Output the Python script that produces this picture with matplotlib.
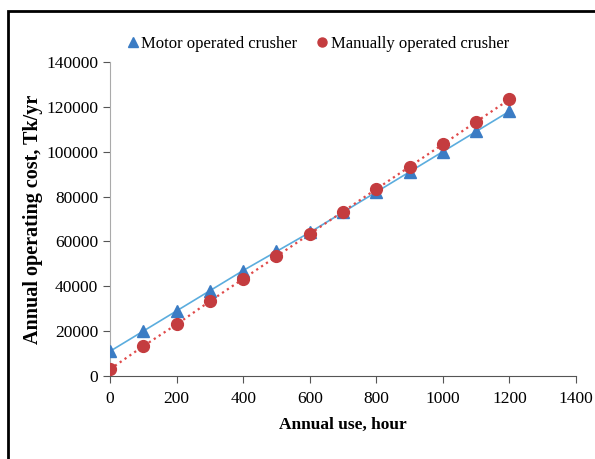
import matplotlib
matplotlib.use('Agg')
import matplotlib.pyplot as plt
from matplotlib.lines import Line2D
from matplotlib.patches import Rectangle

plt.rcParams['font.family'] = 'Liberation Serif'

# data
hours = [0, 100, 200, 300, 400, 500, 600, 700, 800, 900, 1000, 1100, 1200]
motor_cost = [11000, 20000, 29000, 38000, 47000, 55500, 64000, 73000,
              82000, 91000, 100000, 109000, 118000]
manual_cost = [3000, 13300, 23000, 33300, 43300, 53300, 63300, 73300,
               83300, 93300, 103300, 113300, 123300]
xticks = [0, 200, 400, 600, 800, 1000, 1200, 1400]
yticks = [0, 20000, 40000, 60000, 80000, 100000, 120000, 140000]

blue_mk = '#3b7cc4'
blue_ln = '#5badde'
red_mk = '#c43c3f'
red_ln = '#e04a4a'

fig = plt.figure(figsize=(5.95, 4.59), dpi=100)
ax = fig.add_axes([0.185, 0.181, 0.783, 0.684])

ax.plot(hours, motor_cost, '-', color=blue_ln, lw=1.2, zorder=2)
ax.plot(hours, manual_cost, ':', color=red_ln, lw=1.6, zorder=2)
ax.plot(hours, motor_cost, '^', color=blue_mk, ms=8, mec=blue_mk, zorder=3)
ax.plot(hours, manual_cost, 'o', color=red_mk, ms=8.5, mec=red_mk, zorder=3)

ax.set_xlim(0, 1400)
ax.set_ylim(0, 140000)
ax.set_xticks(xticks)
ax.set_yticks(yticks)
ax.tick_params(labelsize=12.5, length=5, width=0.8, colors='#555555',
               labelcolor='black')
ax.tick_params(axis='x', pad=6)

for s in ['top', 'right']:
    ax.spines[s].set_visible(False)
ax.spines['left'].set_color('#aaaaaa')
ax.spines['bottom'].set_color('#555555')

ax.set_xlabel('Annual use, hour', fontsize=12.5, fontweight='bold',
              labelpad=7)
ax.set_ylabel('Annual operating cost, Tk/yr', fontsize=14.5,
              fontweight='bold', labelpad=2.5)

#legend above the plot, markers only
handles = [Line2D([], [], ls='none', marker='^', color=blue_mk, ms=6.5),
           Line2D([], [], ls='none', marker='o', color=red_mk, ms=6.5)]
fig.legend(handles, ['Motor operated crusher', 'Manually operated crusher'],
           loc='center', bbox_to_anchor=(0.535, 0.905), ncol=2, frameon=False,
           fontsize=12, handlelength=0.6, handletextpad=0.2,
           columnspacing=1.2)

#outer frame (cut off at right and bottom)
fig.patches.append(Rectangle((8 / 595, -0.05), 1.1, 1.05 - 11 / 459,
                             transform=fig.transFigure, fill=False,
                             ec='black', lw=2))

fig.savefig('out.png', dpi=100)
